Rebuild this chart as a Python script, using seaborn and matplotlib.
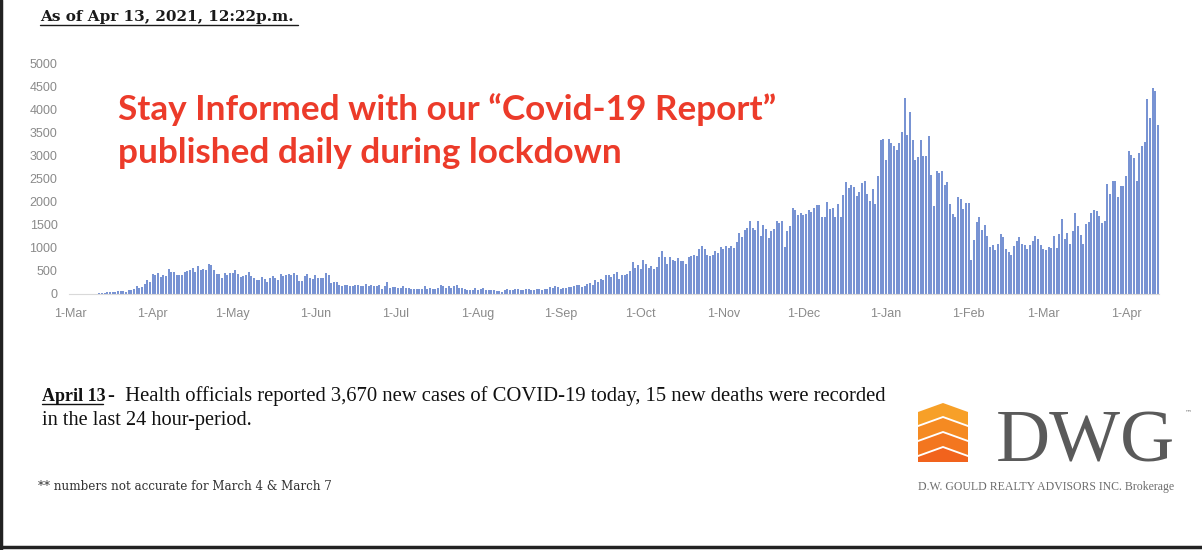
import numpy as np
import pandas as pd
import matplotlib
matplotlib.use("Agg")
import matplotlib.pyplot as plt
import seaborn as sns
from matplotlib.lines import Line2D
from matplotlib.patches import Polygon

# Daily new cases, one list per month
mar_2020 = [0, 0, 4, 4, 2, 6, 4, 2, 3, 4, 5, 17, 20, 21, 32, 39, 32, 45, 58, 60,
            68, 49, 78, 85, 100, 170, 135, 151, 211, 313, 260]
apr_2020 = [426, 401, 462, 375, 408, 379, 550, 483, 478, 411, 401, 421, 483, 494, 514,
            564, 485, 606, 510, 551, 510, 640, 634, 525, 437, 424, 347, 459, 421, 459]
may_2020 = [459, 511, 434, 370, 387, 412, 477, 399, 346, 294, 308, 361, 329, 258, 345, 391,
            340, 304, 427, 390, 413, 441, 412, 460, 404, 287, 292, 383, 441, 344, 326]
jun_2020 = [404, 338, 356, 344, 455, 415, 243, 270, 251, 203, 182, 184, 190, 173, 180,
            184, 190, 173, 180, 206, 178, 203, 181, 163, 189, 111, 178, 257, 138, 157]
jul_2020 = [153, 124, 121, 165, 138, 121, 112, 118, 116, 111, 116, 179, 111, 129, 116, 103,
            137, 203, 164, 135, 165, 138, 178, 195, 134, 129, 108, 76, 89, 76, 134]
aug_2020 = [95, 104, 138, 91, 86, 95, 88, 70, 72, 33, 95, 102, 78, 94, 97, 115,
            85, 90, 106, 104, 86, 86, 111, 100, 86, 108, 118, 148, 120, 172, 141]
sep_2020 = [114, 133, 132, 148, 158, 169, 190, 185, 149, 170, 213, 232, 204, 313, 251,
            315, 293, 401, 407, 365, 425, 478, 335, 409, 409, 435, 491, 700, 554, 625]
oct_2020 = [538, 732, 653, 566, 615, 548, 583, 797, 939, 809, 649, 807, 746, 721, 783, 712,
            704, 658, 805, 821, 841, 826, 978, 1042, 977, 851, 827, 834, 934, 896, 1015]
nov_2020 = [977, 1050, 987, 1050, 998, 1132, 1328, 1242, 1388, 1426, 1575, 1426, 1396, 1588, 1248,
            1487, 1417, 1210, 1373, 1418, 1588, 1534, 1589, 1009, 1373, 1478, 1855, 1822, 1708, 1746]
dec_2020 = [1707, 1723, 1824, 1780, 1859, 1924, 1925, 1676, 1677, 1983, 1848, 1873, 1677, 1940, 1677, 2139,
            2432, 2290, 2357, 2316, 2123, 2202, 2408, 2447, 2159, 2005, 2275, 1939, 2553, 3328, 3363]
jan_2021 = [2900, 3357, 3270, 3200, 3128, 3266, 3519, 4249, 3443, 3945, 3338, 2903, 2961, 3326, 2998, 2999,
            3422, 2578, 1913, 2655, 2632, 2662, 2359, 2417, 1958, 1740, 1670, 2093, 2063, 1848, 1969]
feb_2021 = [1969, 745, 1172, 1563, 1670, 1388, 1489, 1265, 1022, 1072, 945, 1076, 1300, 1228,
            964, 904, 847, 1038, 1150, 1228, 1087, 1058, 975, 1054, 1138, 1258, 1185, 1062]
mar_2021 = [966, 958, 1023, 994, 1250, 990, 1299, 1631, 1185, 1316, 1092, 1371, 1747, 1468, 1268, 1074,
            1508, 1553, 1745, 1829, 1791, 1699, 1546, 1571, 2380, 2169, 2453, 2448, 2094, 2336, 2333]
apr_2021 = [2557, 3089, 3009, 2938, 2448, 3065, 3215, 3295, 4227, 3813, 4456, 4401, 3670]

y_ticks = list(range(0, 5001, 500))

BAR_COLOR = "#7893d3"
RED = "#ec3b2a"
W, H = 1202, 550


def px(x, y):
    """Pixel position (top-left origin) to figure fraction."""
    return x / W, 1 - y / H


cases = (mar_2020 + apr_2020 + may_2020 + jun_2020 + jul_2020 + aug_2020 + sep_2020
         + oct_2020 + nov_2020 + dec_2020 + jan_2021 + feb_2021 + mar_2021 + apr_2021)
dates = pd.date_range("2020-03-01", periods=len(cases), freq="D")
df = pd.DataFrame({"day": np.arange(len(cases)), "cases": cases})

sns.set_theme(style="white")
plt.rcParams["font.family"] = ["Liberation Sans", "DejaVu Sans"]

fig = plt.figure(figsize=(W / 100, H / 100), dpi=100)
fig.patch.set_facecolor("white")
ax = fig.add_axes([0.0571, 0.4655, 0.9074, 0.4195])

sns.barplot(data=df, x="day", y="cases", color=BAR_COLOR, saturation=1,
            width=0.8, errorbar=None, linewidth=0, ax=ax)

ax.set_xlim(-0.5, len(cases) - 0.5)
ax.set_ylim(0, 5000)
ax.set_yticks(y_ticks)
ax.set_yticklabels([str(v) for v in y_ticks])
month_idx = [i for i, d in enumerate(dates) if d.day == 1]
ax.set_xticks(month_idx)
ax.set_xticklabels([f"1-{dates[i]:%b}" for i in month_idx])
ax.set_xlabel("")
ax.set_ylabel("")
ax.tick_params(axis="both", length=0, labelsize=9, colors="#8a8a8a")
ax.tick_params(axis="y", pad=8)
ax.tick_params(axis="x", pad=10)
sns.despine(ax=ax, left=True, top=True, right=True)
ax.spines["bottom"].set_color("#d9d9d9")
ax.spines["bottom"].set_linewidth(0.8)

# header line
fig.text(*px(40, 21), "As of Apr 13, 2021, 12:22p.m.", family="DejaVu Serif",
         weight="bold", fontsize=11, color="#1a1a1a", va="baseline")
fig.add_artist(Line2D(*zip(px(40, 25), px(298, 25)), color="#1a1a1a", lw=1))

# red overlay
fig.text(*px(118, 120), "Stay Informed with our \u201cCovid-19 Report\u201d", family="Lato",
         weight="bold", fontsize=25.3, color=RED, va="baseline")
fig.text(*px(118, 163), "published daily during lockdown", family="Lato",
         weight="bold", fontsize=25.3, color=RED, va="baseline")

# note under chart
fig.text(*px(42, 401), "April 13", family="Liberation Serif", weight="bold",
         fontsize=13, color="#111111", va="baseline")
fig.add_artist(Line2D(*zip(px(42, 404), px(103, 404)), color="#111111", lw=1))
fig.text(*px(108, 401), "-  Health officials reported 3,670 new cases of COVID-19 today, "
         "15 new deaths were recorded", family="Liberation Serif",
         fontsize=14.9, color="#111111", va="baseline")
fig.text(*px(42, 425), "in the last 24 hour-period.", family="Liberation Serif",
         fontsize=14.6, color="#111111", va="baseline")
fig.text(*px(38, 490), "** numbers not accurate for March 4 & March 7",
         family="DejaVu Serif", fontsize=8.6, color="#333333", va="baseline")

# DWG logo
shades = ["#f7a028", "#f58a22", "#f3761f", "#f1631d"]
for i, c in enumerate(shades):
    top = 403 + i * 15
    h = 13
    if i < 3:
        pts = [(918, top + 9), (943, top), (968, top + 9),
               (968, top + 9 + h), (943, top + h), (918, top + 9 + h)]
    else:
        pts = [(918, top + 9), (943, top), (968, top + 9), (968, 462), (918, 462)]
    fig.add_artist(Polygon([px(x, y) for x, y in pts], closed=True,
                           transform=fig.transFigure, facecolor=c, edgecolor="none"))
fig.text(*px(996, 462), "DWG", family="Liberation Serif", fontsize=54,
         color="#5a5a5a", va="baseline")
fig.text(*px(1185, 414), "\u2122", family="DejaVu Sans", fontsize=5, color="#777777",
         va="baseline")
fig.text(*px(918, 490), "D.W. GOULD REALTY ADVISORS INC. Brokerage", family="Liberation Serif",
         fontsize=8.5, color="#6d6d6d", va="baseline")

# frame on left and bottom edges
fig.add_artist(Line2D([0.001, 0.001], [0, 1], color="#222222", lw=2.5))
fig.add_artist(Line2D([0, 1], [0.006, 0.006], color="#222222", lw=2.5))

fig.savefig("out.png", dpi=100, facecolor="white")
plt.close(fig)
